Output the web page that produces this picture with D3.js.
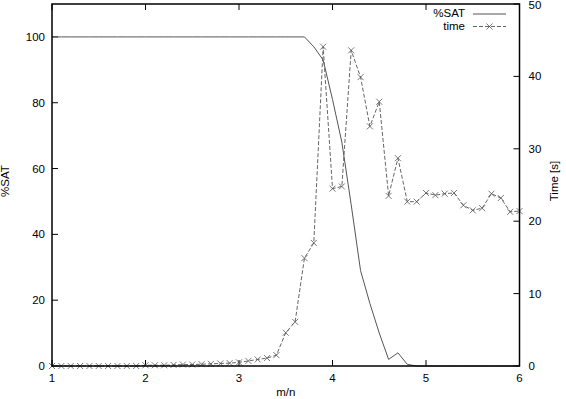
<!DOCTYPE html>
<html>
<head>
<meta charset="utf-8">
<script src="https://cdn.jsdelivr.net/npm/d3@7"></script>
<style>
  body { margin: 0; background: #fff; }
  svg text { font-family: "Liberation Sans", Arial, Helvetica, sans-serif; font-size: 11.5px; fill: #000; }
</style>
</head>
<body>
<svg id="chart" width="566" height="399"></svg>
<script>
// x values (m/n), step 0.1 from 1 to 6
var mn = d3.range(51).map(function(i) { return +(1 + i / 10).toFixed(1); });

// %SAT
var sat = [
  100,100,100,100,100,100,100,100,100,100,   // 1.0 - 1.9
  100,100,100,100,100,100,100,100,100,100,   // 2.0 - 2.9
  100,100,100,100,100,100,100,100, 97, 93,   // 3.0 - 3.9
   81, 68, 49, 29, 19, 10,  2,  4,0.5,  0,   // 4.0 - 4.9
    0,  0,  0,  0,  0,  0,  0,  0,  0,  0,   // 5.0 - 5.9
    0                                        // 6.0
];

// time [s]
var timeS = [
  0, 0, 0, 0, 0, 0, 0, 0, 0, 0,
  0.1, 0.1, 0.1, 0.15, 0.2, 0.2, 0.25, 0.3, 0.35, 0.4,
  0.5, 0.7, 0.9, 1.1, 1.5, 4.6, 6.1, 14.9, 17.0, 44.1,
  24.5, 24.8, 43.6, 39.9, 33.1, 36.5, 23.5, 28.7, 22.7, 22.7,
  23.9, 23.6, 23.8, 23.9, 22.2, 21.5, 21.8, 23.8, 23.2, 21.3,
  21.4
];

var xTicks = [1, 2, 3, 4, 5, 6];
var yTicks = [0, 20, 40, 60, 80, 100];
var y2Ticks = [0, 10, 20, 30, 40, 50];

function draw() {
    var svg = d3.select("#chart");

    var pLeft = 52, pRight = 519.5, pTop = 4, pBottom = 366;

    var x = d3.scaleLinear().domain([1, 6]).range([pLeft, pRight]);
    var y = d3.scaleLinear().domain([0, 110]).range([pBottom, pTop]);
    var y2 = d3.scaleLinear().domain([0, 50]).range([pBottom, pTop]);

    var tickLen = 6;

    // ticks, gnuplot style (pointing inward, mirrored on top)
    var ticks = svg.append("g").attr("stroke", "#000").attr("stroke-width", 1);

    xTicks.forEach(function(t) {
        ticks.append("line")
            .attr("x1", x(t)).attr("x2", x(t))
            .attr("y1", pBottom).attr("y2", pBottom - tickLen);
        ticks.append("line")
            .attr("x1", x(t)).attr("x2", x(t))
            .attr("y1", pTop).attr("y2", pTop + tickLen);
        svg.append("text")
            .attr("x", x(t)).attr("y", pBottom + 16)
            .attr("text-anchor", "middle")
            .text(t);
    });

    yTicks.forEach(function(t) {
        ticks.append("line")
            .attr("x1", pLeft).attr("x2", pLeft + tickLen)
            .attr("y1", y(t)).attr("y2", y(t));
        svg.append("text")
            .attr("x", pLeft - 7).attr("y", y(t)).attr("dy", "0.35em")
            .attr("text-anchor", "end")
            .text(t);
    });

    y2Ticks.forEach(function(t) {
        ticks.append("line")
            .attr("x1", pRight).attr("x2", pRight - tickLen)
            .attr("y1", y2(t)).attr("y2", y2(t));
        svg.append("text")
            .attr("x", pRight + 9).attr("y", Math.max(y2(t), 5)).attr("dy", "0.35em")
            .attr("text-anchor", "start")
            .text(t);
    });

    // axis titles
    svg.append("text")
        .attr("transform", "translate(9,181) rotate(-90)")
        .attr("text-anchor", "middle")
        .text("%SAT");
    svg.append("text")
        .attr("transform", "translate(558,181) rotate(-90)")
        .attr("text-anchor", "middle")
        .text("Time [s]");
    svg.append("text")
        .attr("x", (pLeft + pRight) / 2).attr("y", 396)
        .attr("text-anchor", "middle")
        .text("m/n");

    // data
    var satLine = d3.line()
        .x(function(d, i) { return x(mn[i]); })
        .y(function(d) { return y(d); });

    var timeLine = d3.line()
        .x(function(d, i) { return x(mn[i]); })
        .y(function(d) { return y2(d); });

    svg.append("path")
        .datum(sat)
        .attr("fill", "none")
        .attr("stroke", "#555")
        .attr("stroke-width", 1)
        .attr("d", satLine);

    svg.append("path")
        .datum(timeS)
        .attr("fill", "none")
        .attr("stroke", "#666")
        .attr("stroke-width", 1)
        .attr("stroke-dasharray", "4,2")
        .attr("d", timeLine);

    function cross(g, cx, cy) {
        var s = 3;
        g.append("path")
            .attr("d", "M" + (cx - s) + "," + (cy - s) + "L" + (cx + s) + "," + (cy + s) +
                       "M" + (cx - s) + "," + (cy + s) + "L" + (cx + s) + "," + (cy - s))
            .attr("stroke", "#555")
            .attr("stroke-width", 0.8)
            .attr("fill", "none");
    }

    var marks = svg.append("g");
    timeS.forEach(function(d, i) { cross(marks, x(mn[i]), y2(d)); });

    // legend
    var legend = svg.append("g");
    legend.append("text").attr("x", 465).attr("y", 17).attr("text-anchor", "end").text("%SAT");
    legend.append("line")
        .attr("x1", 473).attr("x2", 506).attr("y1", 14).attr("y2", 14)
        .attr("stroke", "#555").attr("stroke-width", 1);
    legend.append("text").attr("x", 465).attr("y", 30).attr("text-anchor", "end").text("time");
    legend.append("line")
        .attr("x1", 473).attr("x2", 506).attr("y1", 26.5).attr("y2", 26.5)
        .attr("stroke", "#666").attr("stroke-width", 1).attr("stroke-dasharray", "4,2");
    cross(legend, 489.5, 26.5);

    // frame
    svg.append("rect")
        .attr("x", pLeft).attr("y", pTop)
        .attr("width", pRight - pLeft).attr("height", pBottom - pTop)
        .attr("fill", "none")
        .attr("stroke", "#000")
        .attr("stroke-width", 1.5);
}

draw();
</script>
</body>
</html>
